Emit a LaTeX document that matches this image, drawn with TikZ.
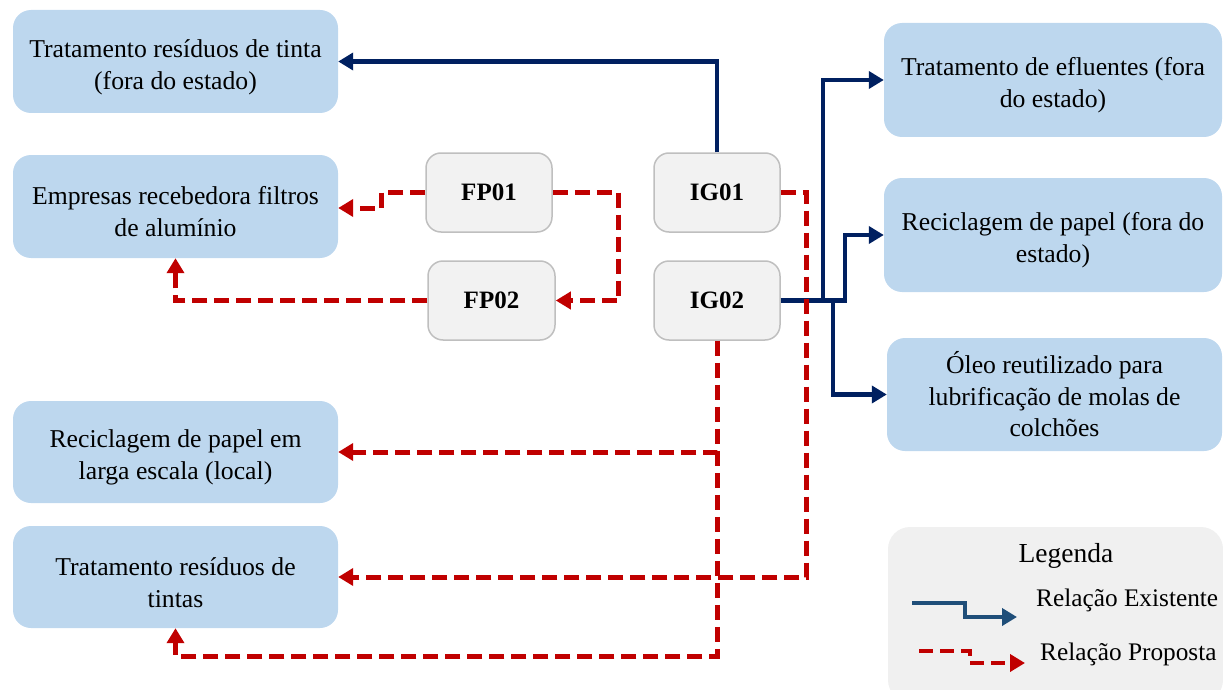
\documentclass[tikz,border=0pt]{standalone}
\usepackage{fontspec}
\setmainfont{Liberation Serif}
\usetikzlibrary{arrows.meta}
\definecolor{boxblue}{HTML}{BDD7EE}
\definecolor{boxgray}{HTML}{F2F2F2}
\definecolor{boxline}{HTML}{BFBFBF}
\definecolor{navy}{HTML}{002060}
\definecolor{propred}{HTML}{C00000}
\definecolor{legblue}{HTML}{1F4E79}
\definecolor{leggray}{HTML}{F0F0F0}
\newcommand{\topgap}{\rule{0pt}{29pt}}
\tikzset{
  dest/.style={fill=boxblue, draw=none, rounded corners=18pt, align=center,
    font=\fontsize{25.7}{32}\selectfont, inner sep=0pt},
  comp/.style={fill=boxgray, draw=boxline, line width=1.5pt, rounded corners=15pt,
    align=center, font=\fontsize{25}{33}\selectfont\bfseries, inner sep=0pt,
    minimum width=126pt, minimum height=79pt},
  exist/.style={draw=navy, line width=4.5pt, -{Triangle[length=15pt,width=17pt]}},
  prop/.style={draw=propred, line width=5pt, dash pattern=on 15pt off 7pt,
    -{Triangle[length=15pt,width=17pt]}},
  legexist/.style={draw=legblue, line width=4pt, -{Triangle[length=15pt,width=17pt]}},
  legtext/.style={font=\fontsize{25.3}{33}\selectfont, inner sep=0pt, anchor=west},
}
\begin{document}
\begin{tikzpicture}[x=1pt,y=-1pt]
\useasboundingbox (0,0) rectangle (1223,690);

% left destination boxes
\node[dest, minimum width=325pt, minimum height=103pt] (A) at (175.5,61.5)
  {\topgap Tratamento resíduos de tinta\\(fora do estado)};
\node[dest, minimum width=325pt, minimum height=103pt] (B) at (175.5,206.5)
  {\topgap Empresas recebedora filtros\\de alumínio};
\node[dest, minimum width=325pt, minimum height=102pt] (C) at (175.5,452)
  {\topgap Reciclagem de papel em\\larga escala (local)};
\node[dest, minimum width=325pt, minimum height=102pt] (D) at (175.5,577)
  {\topgap Tratamento resíduos de\\tintas};

% right destination boxes
\node[dest, minimum width=338pt, minimum height=114pt] (E) at (1053,80)
  {\topgap Tratamento de efluentes (fora\\do estado)};
\node[dest, minimum width=338pt, minimum height=114pt] (F) at (1053,235)
  {\topgap Reciclagem de papel (fora do\\estado)};
\node[dest, minimum width=335pt, minimum height=113pt,
  font=\fontsize{25.7}{31.5}\selectfont] (G) at (1054.5,394.5)
  {Óleo reutilizado para\\lubrificação de molas de\\colchões};

% company boxes
\node[comp] (FP01) at (489,192.5) {FP01};
\node[comp, minimum width=127pt] (FP02) at (491.5,300.5) {FP02};
\node[comp] (IG01) at (717,192.5) {IG01};
\node[comp] (IG02) at (717,300.5) {IG02};

% helper coordinates
\coordinate (bE) at (823,0);
\coordinate (bF) at (845,0);
\coordinate (bG) at (833,0);
\coordinate (low) at (0,656);

% existing relations
\draw[exist] (IG01.north) |- (A.east);
\draw[exist] (IG02.east) -- (IG02.east -| bE) |- (E.west);
\draw[exist] (IG02.east) -- (IG02.east -| bF) |- (F.west);
\draw[exist] (IG02.east) -- (IG02.east -| bG) |- (G.west);

% proposed relations
\draw[prop] (FP01.west) -- ++(-44,0) |- ([yshift=-1.5pt]B.east);
\draw[prop] (FP01.east) -- ++(66,0) |- (FP02.east);
\draw[prop] (FP02.west) -| (B.south);
\draw[prop] (IG01.east) -- ++(26,0) |- (D.east);
\draw[prop] (IG02.south) |- (C.east);
\draw[prop] (IG02.south) -- (IG02.south |- low) -| (D.south);

% legend
\node[fill=leggray, rounded corners=22pt, minimum width=335pt, minimum height=175pt,
  inner sep=0pt] (leg) at (1055.5,614.5) {};
\node[font=\fontsize{27.5}{33}\selectfont, inner sep=0pt] (legt) at (1066,556) {Legenda};
\node[legtext] (le) at (1036,600) {Relação Existente};
\node[legtext] (lp) at (1040,654) {Relação Proposta};
\coordinate (le1) at (912,603);
\coordinate (le2) at (965,617);
\coordinate (le3) at (1017,617);
\draw[legexist] (le1) -| (le2) -- (le3);
\coordinate (lp1) at (919,651);
\coordinate (lp2) at (970,663);
\coordinate (lp3) at (1025,663);
\draw[prop, dash pattern=on 14pt off 7pt, line width=4.5pt] (lp1) -| (lp2) -- (lp3);
\end{tikzpicture}
\end{document}
